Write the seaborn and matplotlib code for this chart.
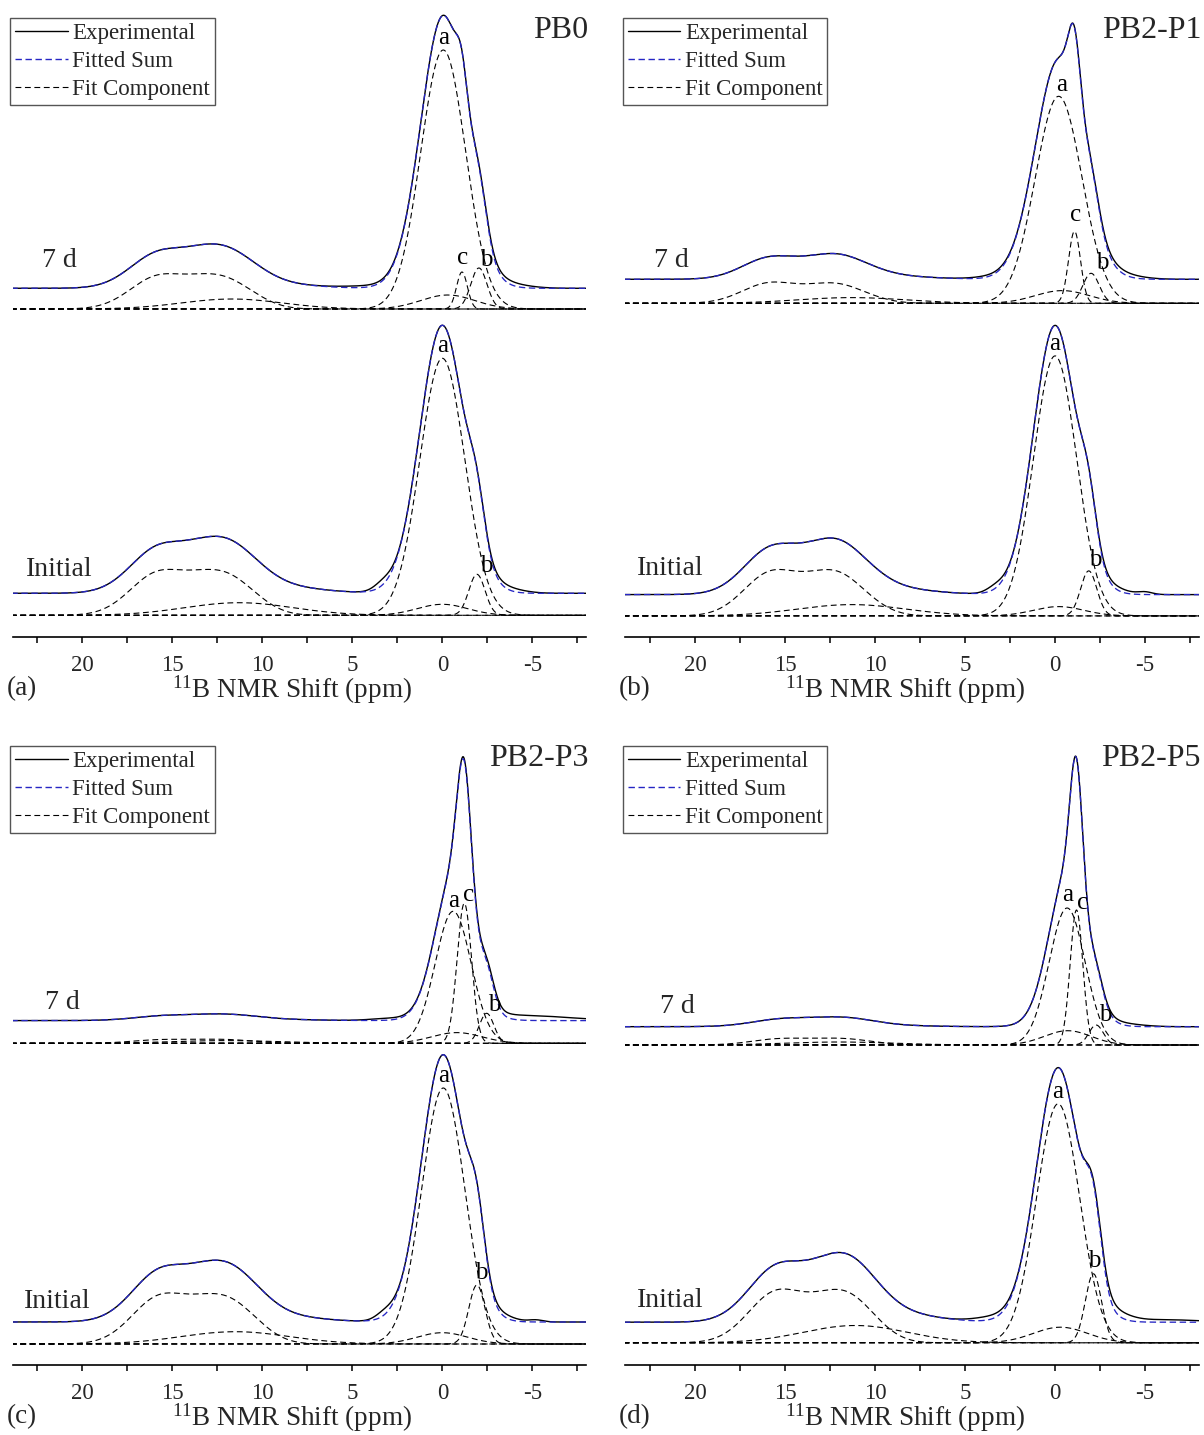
import numpy as np
import matplotlib
matplotlib.use("Agg")
import matplotlib.pyplot as plt
from matplotlib.lines import Line2D
import seaborn as sns

# ---------------------------------------------------------------- data
PPM_LIMITS = (23.87, -7.98)
MAJOR_TICKS = [20, 15, 10, 5, 0, -5]
MAJOR_LABELS = ["20", "15", "10", "5", "0", "-5"]
MINOR_TICKS = [22.5, 17.5, 12.5, 7.5, 2.5, -2.5, -7.5]

SAMPLES = ["PB0", "PB2-P1", "PB2-P3", "PB2-P5"]
PANEL_TAGS = ["(a)", "(b)", "(c)", "(d)"]
AGES = ["Initial", "7 d"]

# spectra order: sample x age
SPECTRA = [(s, a) for s in SAMPLES for a in AGES]

# trigonal BO3 pattern, built from four sub-lines: (center ppm, sigma ppm, height)
BO3_PATTERN = [
    [(15.7, 1.6, 43.0), (13.7, 1.0, 8.0), (12.2, 1.3, 34.0), (10.5, 1.2, 10.0)],
    [(15.7, 1.6, 33.0), (13.7, 1.0, 5.5), (12.3, 1.3, 25.5), (10.6, 1.2, 7.5)],
    [(15.7, 1.55, 44.0), (13.7, 1.0, 8.0), (12.2, 1.25, 35.5), (10.5, 1.2, 10.4)],
    [(15.8, 1.55, 20.5), (13.7, 1.0, 3.5), (12.2, 1.25, 16.0), (10.5, 1.2, 4.7)],
    [(15.6, 1.6, 48.0), (13.6, 1.0, 8.5), (12.1, 1.3, 37.5), (10.4, 1.2, 11.0)],
    [(15.5, 1.6, 3.7), (13.6, 1.0, 0.5), (12.2, 1.3, 3.0), (10.6, 1.2, 0.9)],
    [(15.4, 1.6, 51.5), (13.3, 1.0, 8.0), (11.8, 1.3, 41.0), (10.2, 1.2, 12.0)],
    [(15.2, 1.6, 6.3), (13.4, 1.0, 0.8), (11.9, 1.3, 5.1), (10.3, 1.2, 1.5)],
]
# broad BO3 site
BO3_BROAD = [(11.3, 3.0, 12.6), (11.7, 2.8, 10.0), (11.3, 3.0, 11.3), (11.3, 3.0, 5.7),
             (11.5, 3.0, 12.3), (12.0, 3.0, 2.7), (11.1, 2.9, 17.3), (12.0, 3.0, 3.0)]
# broad BO4 site
BO4_BROAD = [(0.0, 1.4, 11.0), (-0.3, 1.5, 14.0), (-0.2, 1.4, 9.3), (-0.4, 1.5, 12.7),
             (0.0, 1.4, 11.3), (-0.8, 1.4, 10.7), (-0.3, 1.5, 15.6), (-0.7, 1.3, 14.3)]
# labelled BO4 lines
PEAK_A = [(0.0, 1.25, 257.0), (-0.05, 1.25, 259.0), (0.0, 1.2, 260.0), (-0.2, 1.3, 207.0),
          (-0.05, 1.2, 256.0), (-0.6, 1.0, 132.0), (-0.17, 1.2, 239.0), (-0.67, 1.0, 137.0)]
PEAK_B = [(-1.92, 0.45, 41.0), (-2.03, 0.45, 41.0), (-1.87, 0.45, 45.0), (-2.0, 0.45, 30.0),
          (-1.92, 0.45, 59.0), (-2.46, 0.4, 30.0), (-2.13, 0.45, 69.0), (-2.28, 0.4, 20.0)]
PEAK_C = [None, (-1.09, 0.3, 37.0), None, (-1.08, 0.33, 72.0),
          None, (-1.22, 0.4, 140.0), None, (-1.19, 0.35, 135.0)]
# constant baseline of the fit
FIT_BASELINE = [22.0, 20.7, 21.3, 24.0, 22.0, 22.7, 20.6, 18.3]
# measured minus fitted
RESIDUAL = [
    [(3.3, 0.5, 6.0), (-3.5, 1.0, 4.0)],
    [(4.0, 1.5, 2.0), (-3.5, 1.2, 4.0)],
    [(3.3, 0.5, 5.0), (-3.3, 0.8, 4.0), (-5.0, 0.4, 2.5)],
    [(3.5, 1.0, 2.0), (-3.5, 1.2, 4.0)],
    [(3.2, 0.5, 6.0), (-3.3, 0.8, 4.0), (-5.2, 0.4, 2.0)],
    [(3.0, 1.0, 2.0), (-4.5, 2.5, 5.0)],
    [(3.5, 1.0, 4.0), (-3.3, 0.9, 6.0), (-6.0, 2.0, 2.5)],
    [(-3.5, 1.2, 3.0)],
]

# ---------------------------------------------------------------- layout
STACK = [22.0, 328.3, 21.4, 334.0, 21.3, 322.0, 22.5, 320.3]
AGE_LABEL_POS = [(21.3, 68), (21.3, 377), (21.4, 69), (21.3, 377),
                 (21.4, 64), (21.1, 363), (21.4, 65), (21.0, 359)]
# offsets (d ppm, d height) of the peak letters from the peak tops
LETTER_OFFSETS = [
    {"a": (0.0, 12), "b": (-0.5, 8)},
    {"a": (0.0, 12), "b": (-0.4, 8), "c": (-0.02, 14)},
    {"a": (0.0, 12), "b": (-0.36, 11)},
    {"a": (-0.19, 11), "b": (-0.6, 10), "c": (-0.07, 16)},
    {"a": (0.0, 12), "b": (-0.22, 12)},
    {"a": (0.0, 10), "b": (-0.44, 8), "c": (-0.26, 8)},
    {"a": (0.0, 12), "b": (-0.04, 13)},
    {"a": (-0.05, 13), "b": (-0.5, 10), "c": (-0.35, 7)},
]

FIG_W, FIG_H = 1204, 1435
AX_W, AX_H = 573.3, 629.3
AX_LEFT = [12.7, 625.4, 12.7, 625.4]
AX_BOTTOM = [637.3, 637.3, 1365.3, 1365.3]

BLUE = "#2626c4"
SERIF = ["Liberation Serif", "DejaVu Serif"]

sns.set_style("white")
plt.rcParams["font.family"] = SERIF
plt.rcParams["mathtext.fontset"] = "custom"
plt.rcParams["mathtext.rm"] = "Liberation Serif"
plt.rcParams["mathtext.it"] = "Liberation Serif:italic"
plt.rcParams["lines.scale_dashes"] = False

ppm = np.linspace(24.5, -8.5, 2200)


def line(c, s, h):
    return h * np.exp(-0.5 * ((ppm - c) / s) ** 2)


def draw(ax, y, color, style, lw):
    sns.lineplot(x=ppm, y=y, ax=ax, color=color, linestyle=style, linewidth=lw,
                 estimator=None, errorbar=None, sort=False, legend=False)


COMP_STYLE = (0, (4.2, 2.6))
SUM_STYLE = (0, (4.6, 2.6))

fig = plt.figure(figsize=(FIG_W / 100, FIG_H / 100), dpi=100)

for p, sample in enumerate(SAMPLES):
    ax = fig.add_axes([AX_LEFT[p] / FIG_W, (FIG_H - AX_BOTTOM[p]) / FIG_H,
                       AX_W / FIG_W, AX_H / FIG_H])
    for k in range(2):
        i = 2 * p + k
        off = STACK[i]
        comps = [sum(line(*t) for t in BO3_PATTERN[i]), line(*BO3_BROAD[i]),
                 line(*BO4_BROAD[i]), line(*PEAK_A[i]), line(*PEAK_B[i])]
        if PEAK_C[i] is not None:
            comps.append(line(*PEAK_C[i]))
        total = sum(comps)
        fit = off + FIT_BASELINE[i] + total
        meas = fit + sum(line(*t) for t in RESIDUAL[i])
        for cmp_ in comps:
            draw(ax, off + cmp_, "black", COMP_STYLE, 0.8)
        draw(ax, meas, "black", "-", 1.0)
        draw(ax, fit, BLUE, SUM_STYLE, 0.95)

        # peak letters
        peaks = {"a": PEAK_A[i], "b": PEAK_B[i]}
        if PEAK_C[i] is not None:
            peaks["c"] = PEAK_C[i]
        for name, (c, s, h) in peaks.items():
            dx, dy = LETTER_OFFSETS[i][name]
            ax.text(c + dx, off + h + dy, name, ha="center", va="center",
                    fontsize=18, color="black")
        lx, ly = AGE_LABEL_POS[i]
        ax.text(lx, ly, AGES[k], ha="center", va="center", fontsize=20)

    ax.set_xlim(*PPM_LIMITS)
    ax.set_ylim(0, AX_H)
    ax.set_yticks([])
    ax.set_ylabel("")
    ax.set_xticks(MAJOR_TICKS)
    ax.set_xticklabels(MAJOR_LABELS)
    ax.set_xticks(MINOR_TICKS, minor=True)
    ax.tick_params(axis="x", which="both", direction="out", length=4.3, width=1.1,
                   color="black", labelsize=16.5, pad=8.5, bottom=True)
    for side in ["left", "right", "top"]:
        ax.spines[side].set_visible(False)
    ax.spines["bottom"].set_linewidth(1.2)
    ax.spines["bottom"].set_color("black")
    ax.patch.set_alpha(0)

    ax.set_xlabel(r"$^{11}$B NMR Shift (ppm)", fontsize=19.5)
    ax.xaxis.set_label_coords(0.487, -0.084)
    ax.xaxis.label.set_va("center")

    ax.text(0.016, -0.081, PANEL_TAGS[p], transform=ax.transAxes,
            ha="center", va="center", fontsize=19.5)
    ax.text(1.004, 0.965, sample, transform=ax.transAxes,
            ha="right", va="center", fontsize=23)

    handles = [
        Line2D([], [], color="black", lw=1.0, linestyle="-"),
        Line2D([], [], color=BLUE, lw=1.0, linestyle=SUM_STYLE),
        Line2D([], [], color="black", lw=0.8, linestyle=COMP_STYLE),
    ]
    leg = ax.legend(handles, ["Experimental", "Fitted Sum", "Fit Component"],
                    loc="upper left", bbox_to_anchor=(-0.0047, 0.9846),
                    borderaxespad=0, frameon=True, fancybox=False,
                    edgecolor="#555555", framealpha=1, borderpad=0.21,
                    labelspacing=0.32, handlelength=2.3, handletextpad=0.2,
                    fontsize=16.5)
    leg.get_frame().set_linewidth(1.0)

fig.savefig("out.png", dpi=100)
